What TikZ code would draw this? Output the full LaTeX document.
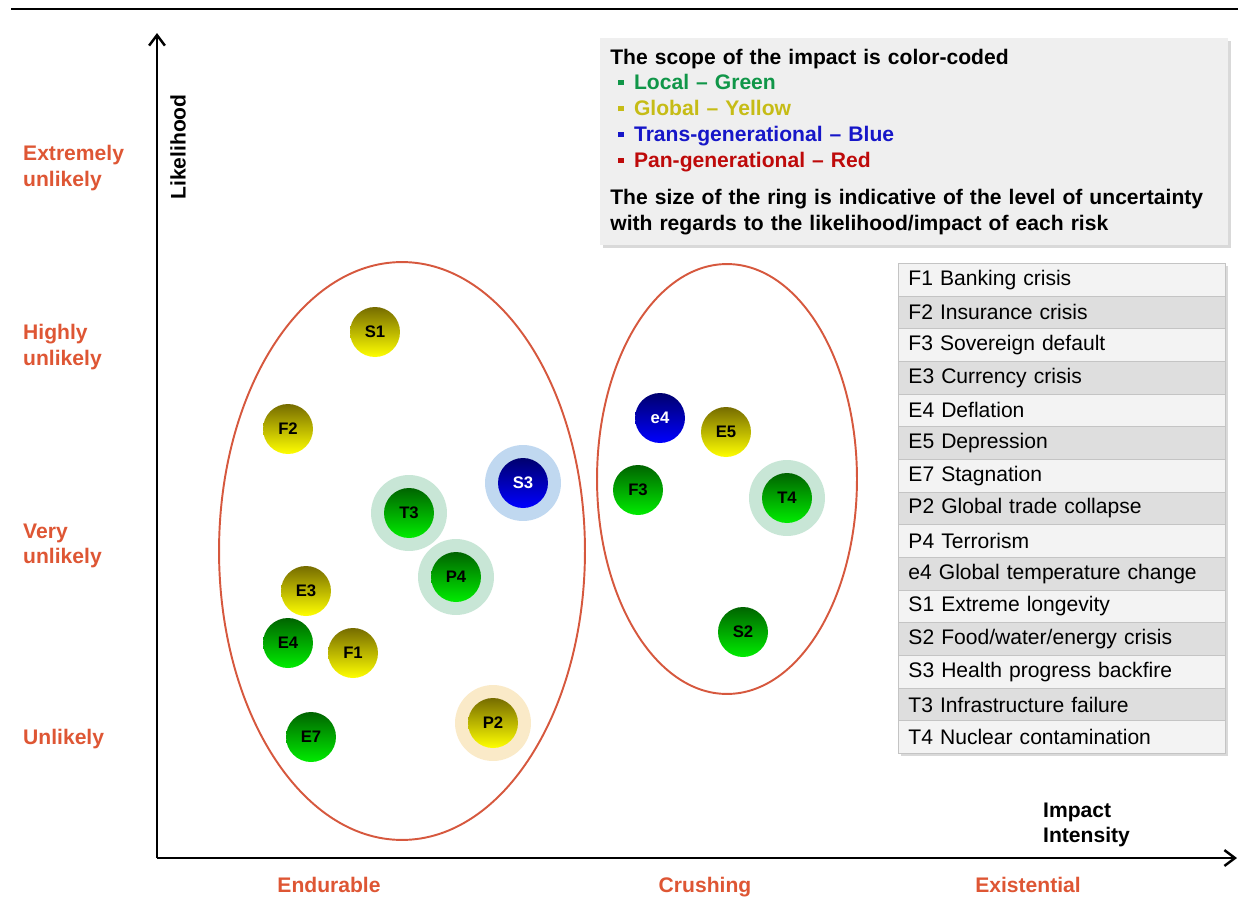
\documentclass[tikz,border=0pt]{standalone}
\usepackage{fontspec}
\setmainfont{Liberation Sans}
\usetikzlibrary{arrows.meta,shadows}
\definecolor{axisred}{RGB}{222,86,52}
\definecolor{zonered}{RGB}{214,88,62}
\definecolor{localgreen}{RGB}{16,150,72}
\definecolor{globalyellow}{RGB}{198,188,22}
\definecolor{transblue}{RGB}{22,22,200}
\definecolor{panred}{RGB}{190,10,10}
\definecolor{ringgreen}{RGB}{200,230,214}
\definecolor{ringblue}{RGB}{192,216,240}
\definecolor{ringyellow}{RGB}{250,234,200}
\definecolor{boxgray}{RGB}{239,239,239}
\definecolor{rowlight}{RGB}{243,243,243}
\definecolor{rowdark}{RGB}{222,222,222}
\newcommand{\Bullet}[1]{\hspace*{4.5pt}\textcolor{#1}{\raisebox{2.5pt}{\rule{3pt}{3pt}}}\hspace{6pt}}
\newcommand{\RiskBall}[4]{
	\node[#1] (#2) at (#3) {#4};
}
\newcommand{\RiskRing}[3]{
	\node[ring, fill=#1] (#2ring) at (#3) {};
}
\tikzset{
	axis/.style={line width=1.4pt, -{Straight Barb[length=6pt,width=9pt]}},
	axislabel/.style={text=axisred, font=\fontsize{12}{14.5}\selectfont\bfseries, align=left},
	zone/.style={draw=zonered, line width=1.1pt},
	risk/.style={circle, minimum size=1cm, inner sep=0pt, font=\fontsize{9.5}{10}\selectfont\bfseries},
	yellowrisk/.style={risk, top color={rgb,255:red,118;green,108;blue,0}, bottom color={rgb,255:red,255;green,255;blue,0}},
	greenrisk/.style={risk, top color={rgb,255:red,0;green,100;blue,0}, bottom color={rgb,255:red,0;green,236;blue,0}},
	bluerisk/.style={risk, top color={rgb,255:red,0;green,0;blue,110}, bottom color={rgb,255:red,0;green,0;blue,255}, text=white},
	ring/.style={circle, minimum size=1.52cm, inner sep=0pt},
	legendbox/.style={fill=boxgray, minimum width=12.56cm, minimum height=4.14cm, text width=12.16cm, inner xsep=0.2cm, align=left,
		drop shadow={shadow xshift=1.5pt, shadow yshift=-1.5pt, opacity=0.3},
		font=\fontsize{12}{14.7}\selectfont\bfseries},
	tablebox/.style={fill=rowlight, minimum width=6.54cm, minimum height=9.8cm, inner sep=0pt,
		drop shadow={shadow xshift=1.5pt, shadow yshift=-1.5pt, opacity=0.3}},
	tablerow/.style={draw={rgb,255:red,196;green,196;blue,196}, line width=0.5pt, minimum width=6.54cm, minimum height=0.6533cm,
		text width=6.14cm, inner xsep=0.2cm, inner ysep=0pt, align=left, font=\fontsize{12}{14}\selectfont}
}
\begin{document}
\begin{tikzpicture}[x=0.02cm, y=-0.02cm]
	\useasboundingbox (0,0) rectangle (1238,913);
	\coordinate (ruleL) at (11,9);
	\coordinate (ruleR) at (1238,9);
	\draw[line width=1.1pt] (ruleL) -- (ruleR);
	\coordinate (O) at (157,858);
	\coordinate (Ytop) at (157,33);
	\coordinate (Xend) at (1237,858);
	\draw[axis] (O) -- (Ytop);
	\draw[axis] (O) -- (Xend);
	\node[rotate=90, font=\fontsize{12}{14}\selectfont\bfseries] (likelihood) at (178,147) {Likelihood};
	\node[font=\fontsize{12}{14.5}\selectfont\bfseries, align=left, anchor=west] (impact) at (1037,825) {Impact\\Intensity};
	\node[axislabel, anchor=west] (extremely) at (17,168) {Extremely\\unlikely};
	\node[axislabel, anchor=west] (highly) at (17,347) {Highly\\unlikely};
	\node[axislabel, anchor=west] (very) at (17,546) {Very\\unlikely};
	\node[axislabel, anchor=west] (unlikely) at (17,739) {Unlikely};
	\node[axislabel, anchor=base] (endurable) at (329,892) {Endurable};
	\node[axislabel, anchor=base] (crushing) at (705,892) {Crushing};
	\node[axislabel, anchor=base] (existential) at (1028,892) {Existential};
	\draw[zone] (402,551) ellipse [x radius=3.66cm, y radius=5.78cm];
	\draw[zone] (727,479) ellipse [x radius=2.6cm, y radius=4.3cm];
	\RiskRing{ringblue}{S3}{523,483}
	\RiskRing{ringgreen}{T3}{409,513}
	\RiskRing{ringgreen}{P4}{456,577}
	\RiskRing{ringyellow}{P2}{493,723}
	\RiskRing{ringgreen}{T4}{787,498}
	\RiskBall{yellowrisk}{S1}{375,332}{S1}
	\RiskBall{yellowrisk}{F2}{288,429}{F2}
	\RiskBall{bluerisk}{S3}{523,483}{S3}
	\RiskBall{greenrisk}{T3}{409,513}{T3}
	\RiskBall{greenrisk}{P4}{456,577}{P4}
	\RiskBall{yellowrisk}{E3}{306,591}{E3}
	\RiskBall{greenrisk}{E4}{288,643}{E4}
	\RiskBall{yellowrisk}{F1}{353,653}{F1}
	\RiskBall{greenrisk}{E7}{311,737}{E7}
	\RiskBall{yellowrisk}{P2}{493,723}{P2}
	\RiskBall{bluerisk}{e4}{660,418}{e4}
	\RiskBall{yellowrisk}{E5}{726,432}{E5}
	\RiskBall{greenrisk}{F3}{638,490}{F3}
	\RiskBall{greenrisk}{T4}{787,498}{T4}
	\RiskBall{greenrisk}{S2}{743,632}{S2}
	\node[legendbox, anchor=north west] (legend) at (600,38) {
		The scope of the impact is color-coded\\
		\Bullet{localgreen}\textcolor{localgreen}{Local -- Green}\\
		\Bullet{globalyellow}\textcolor{globalyellow}{Global -- Yellow}\\
		\Bullet{transblue}\textcolor{transblue}{Trans-generational -- Blue}\\
		\Bullet{panred}\textcolor{panred}{Pan-generational -- Red}\\[6.5pt]
		The size of the ring is indicative of the level of uncertainty\\
		with regards to the likelihood/impact of each risk};
	\node[tablebox, anchor=north west] (table) at (898,263) {};
	\foreach \entry [count=\i] in {F1 Banking crisis, F2 Insurance crisis, F3 Sovereign default, E3 Currency crisis,
		E4 Deflation, E5 Depression, E7 Stagnation, P2 Global trade collapse, P4 Terrorism,
		e4 Global temperature change, S1 Extreme longevity, S2 Food/water/energy crisis,
		S3 Health progress backfire, T3 Infrastructure failure, T4 Nuclear contamination}{
		\ifodd\i \def\rowfill{rowlight}\else \def\rowfill{rowdark}\fi
		\node[tablerow, fill=\rowfill, anchor=north west] (row\i) at (898,{263+32.67*(\i-1)}) {\entry};
	}
\end{tikzpicture}
\end{document}
